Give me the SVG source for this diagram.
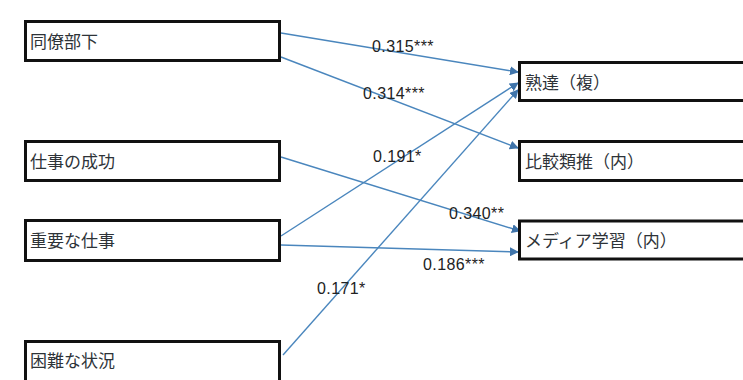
<svg xmlns="http://www.w3.org/2000/svg" width="743" height="380" viewBox="0 0 743 380">
  <style>
    .box { fill: #ffffff; stroke: #111111; stroke-width: 3; }
    .lbl { font-family: "Noto Sans CJK JP", "Noto Sans", sans-serif; font-size: 17px; fill: #2e3338; }
    .coef { font-family: "Liberation Sans", "DejaVu Sans", sans-serif; font-size: 16px; fill: #222222; letter-spacing: 0.4px; }
    .edge { fill: none; stroke: #4a86bd; stroke-width: 1.4; marker-end: url(#arrow); }
  </style>
  <defs>
    <marker id="arrow" viewBox="0 0 10 10" refX="9" refY="5" markerWidth="9" markerHeight="9" markerUnits="userSpaceOnUse" orient="auto">
      <path d="M0,0 L10,5 L0,10 z" fill="#3f74aa"/>
    </marker>
  </defs>
  <rect width="743" height="380" fill="#ffffff"/>

  <!-- connectors -->
  <g id="connectors">
    <line class="edge" x1="281" y1="33" x2="518" y2="72"/>
    <line class="edge" x1="281" y1="57" x2="518" y2="148"/>
    <line class="edge" x1="281" y1="157" x2="520" y2="231"/>
    <line class="edge" x1="281" y1="236" x2="518" y2="83"/>
    <line class="edge" x1="281" y1="245" x2="518" y2="252"/>
    <line class="edge" x1="283" y1="355" x2="518" y2="90"/>
  </g>

  <!-- path coefficients -->
  <g id="coefficients">
    <text class="coef" x="372" y="52">0.315***</text>
    <text class="coef" x="363" y="99">0.314***</text>
    <text class="coef" x="373" y="162">0.191*</text>
    <text class="coef" x="449" y="219">0.340**</text>
    <text class="coef" x="423" y="270">0.186***</text>
    <text class="coef" x="317" y="294">0.171*</text>
  </g>

  <!-- predictor nodes -->
  <g id="node-colleagues">
    <rect class="box" x="25.5" y="21.5" width="254" height="39"/>
    <text class="lbl" x="30" y="48">同僚部下</text>
  </g>
  <g id="node-success">
    <rect class="box" x="25.5" y="141.5" width="254" height="39"/>
    <text class="lbl" x="30" y="168">仕事の成功</text>
  </g>
  <g id="node-important">
    <rect class="box" x="25.5" y="220.5" width="254" height="40"/>
    <text class="lbl" x="30" y="247">重要な仕事</text>
  </g>
  <g id="node-difficult">
    <rect class="box" x="25.5" y="341.5" width="254" height="50"/>
    <text class="lbl" x="30" y="367">困難な状況</text>
  </g>

  <!-- outcome nodes -->
  <g id="node-mastery">
    <rect class="box" x="519.5" y="62.5" width="240" height="38"/>
    <text class="lbl" x="525" y="89">熟達（複）</text>
  </g>
  <g id="node-analogy">
    <rect class="box" x="519.5" y="141.5" width="240" height="39"/>
    <text class="lbl" x="525" y="168">比較類推（内）</text>
  </g>
  <g id="node-media">
    <rect class="box" x="519.5" y="221" width="240" height="38"/>
    <text class="lbl" x="525" y="247">メディア学習（内）</text>
  </g>
</svg>
